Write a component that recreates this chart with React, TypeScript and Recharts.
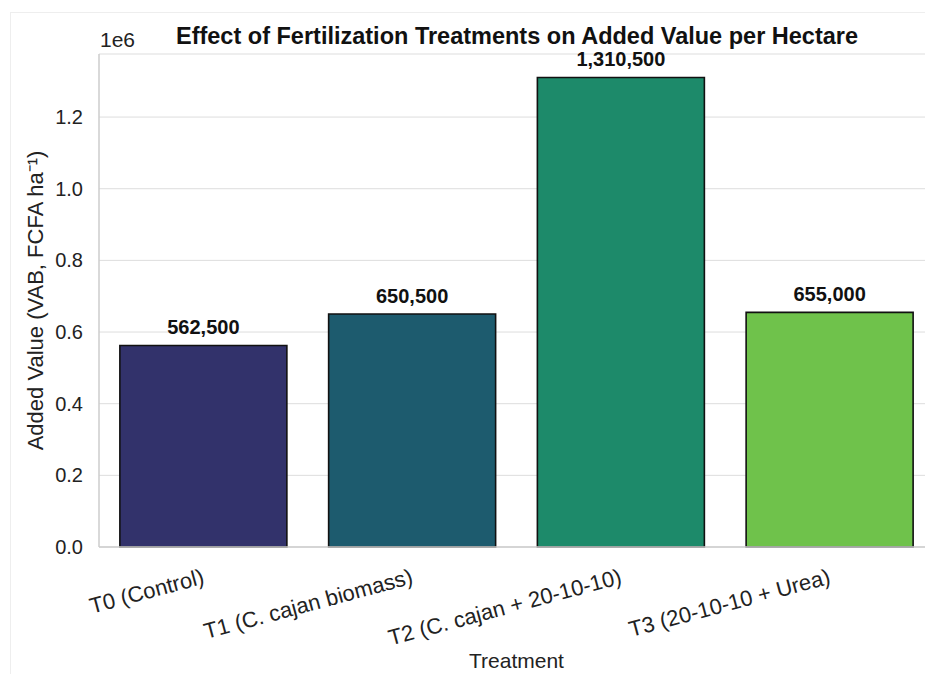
import React from "react";
import { BarChart, Bar, XAxis, YAxis, CartesianGrid, Cell, LabelList } from "recharts";

const treatments = [
  "T0 (Control)",
  "T1 (C. cajan biomass)",
  "T2 (C. cajan + 20-10-10)",
  "T3 (20-10-10 + Urea)",
];
const addedValues = [562500, 650500, 1310500, 655000];
const barColors = ["#32326b", "#1d5b6e", "#1d8a6a", "#6fc24b"];
const yTicks = [0, 200000, 400000, 600000, 800000, 1000000, 1200000];

const data = treatments.map((name, i) => ({ name, value: addedValues[i] }));

const FONT = "'Liberation Sans', Arial, sans-serif";

const XTick = (props: any) => {
  const { x, y, payload } = props;
  return (
    <g transform={`translate(${x - 3},${y + 10})`}>
      <text
        textAnchor="end"
        transform="rotate(-15)"
        dy={19}
        fontSize={22}
        fill="#222"
        fontFamily={FONT}
      >
        {payload.value}
      </text>
    </g>
  );
};

export default function App() {
  return (
    <div
      style={{
        position: "fixed",
        left: 0,
        top: 0,
        width: 925,
        height: 674,
        overflow: "hidden",
        background: "#fff",
        fontFamily: FONT,
      }}
    >
      <div
        style={{
          position: "absolute",
          left: 10,
          top: 12,
          width: 940,
          height: 700,
          border: "1px solid #eeeeee",
        }}
      />
      <BarChart
        width={935}
        height={674}
        data={data}
        margin={{ top: 54, right: 1, bottom: 0, left: 39 }}
        barCategoryGap="10%"
      >
        <CartesianGrid vertical={false} stroke="#dddddd" />
        <XAxis
          dataKey="name"
          tick={<XTick />}
          tickLine={false}
          axisLine={{ stroke: "#cccccc", strokeWidth: 1.5 }}
          interval={0}
          label={{
            value: "Treatment",
            position: "insideBottom",
            offset: 6,
            fontSize: 21,
            fill: "#222",
            fontFamily: FONT,
          }}
          height={127}
        />
        <YAxis
          width={60}
          domain={[0, 1376025]}
          ticks={yTicks}
          tickFormatter={(v: number) => (v / 1e6).toFixed(1)}
          tick={{ fontSize: 20, fill: "#222", fontFamily: FONT }}
          tickLine={false}
          tickSize={6}
          tickMargin={10}
          axisLine={{ stroke: "#cccccc", strokeWidth: 1.5 }}
          label={{
            value: "Added Value (VAB, FCFA ha\u207B\u00B9)",
            angle: -90,
            position: "insideLeft",
            offset: -4,
            style: { textAnchor: "middle" },
            fontSize: 22,
            fill: "#222",
            fontFamily: FONT,
          }}
        />
        <Bar dataKey="value" stroke="#111" strokeWidth={1.6} isAnimationActive={false}>
          {data.map((d, i) => (
            <Cell key={d.name} fill={barColors[i]} />
          ))}
          <LabelList
            dataKey="value"
            position="top"
            offset={11}
            formatter={(v: any) => Number(v).toLocaleString("en-US")}
            style={{ fontSize: 20, fontWeight: "bold", fill: "#111", fontFamily: FONT }}
          />
        </Bar>
      </BarChart>
      <div
        style={{
          position: "absolute",
          left: 0,
          width: 1034,
          top: 22,
          textAlign: "center",
          fontSize: 23.5,
          fontWeight: "bold",
          color: "#111",
          lineHeight: "28px",
        }}
      >
        Effect of Fertilization Treatments on Added Value per Hectare
      </div>
      <div
        style={{
          position: "absolute",
          left: 100,
          top: 28,
          fontSize: 21,
          color: "#222",
          lineHeight: "24px",
        }}
      >
        1e6
      </div>
    </div>
  );
}
